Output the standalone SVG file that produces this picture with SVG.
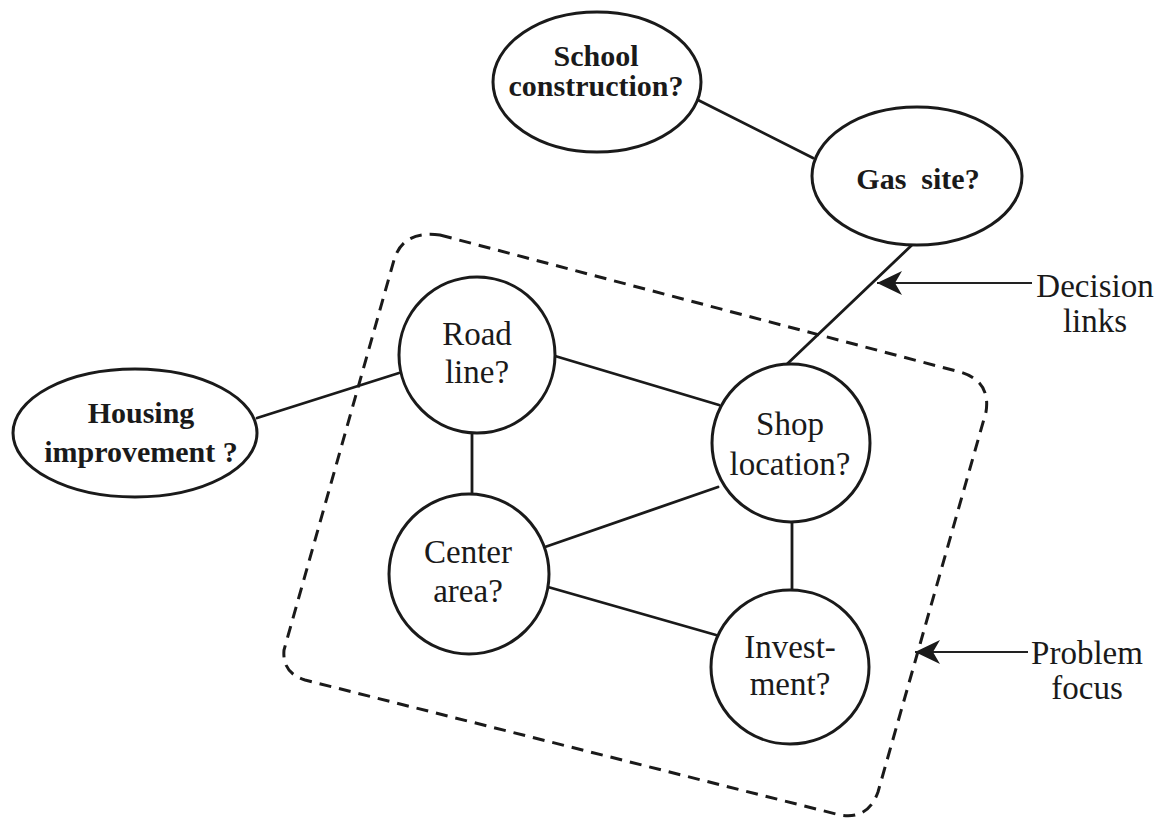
<svg xmlns="http://www.w3.org/2000/svg" width="1164" height="818" viewBox="0 0 1164 818">
  <style>
    .node { fill: #ffffff; stroke: #1a1a1a; stroke-width: 3; }
    .link { fill: none; stroke: #1a1a1a; stroke-width: 2.8; stroke-linecap: round; }
    .focus { fill: none; stroke: #1a1a1a; stroke-width: 3; stroke-dasharray: 12 8; }
    .pointer { fill: none; stroke: #222222; stroke-width: 2.2; }
    .lbl { font-family: "Liberation Serif", "DejaVu Serif", serif; font-size: 33px; fill: #1a1a1a; text-anchor: middle; }
    .lbl-b { font-family: "Liberation Serif", "DejaVu Serif", serif; font-size: 30px; font-weight: bold; fill: #1a1a1a; text-anchor: middle; }
  </style>
  <defs>
    <!-- barbed arrowhead, tip at the end of the pointer line -->
    <marker id="barb" viewBox="0 0 28 26" refX="26" refY="13" markerWidth="28" markerHeight="26" markerUnits="userSpaceOnUse" orient="auto">
      <path d="M26,13 L1,1 L8,13 L1,25 Z" fill="#1a1a1a"/>
    </marker>
  </defs>
  <rect width="1164" height="818" fill="#ffffff"/>

  <!-- problem focus boundary -->
  <path id="focus-boundary" class="focus" d="M440,235 L960,372 Q991,381 986,412 L878,792 Q868,820 840,815 L305,680 Q282,673 284,650 L394,260 Q403,230 440,235 Z"/>

  <!-- decision links -->
  <g id="connectors">
    <line class="link" x1="698" y1="100" x2="813" y2="158"/>
    <line class="link" x1="913" y1="244" x2="785" y2="366"/>
    <line class="link" x1="257" y1="418" x2="399" y2="373"/>
    <line class="link" x1="555" y1="356" x2="719" y2="405"/>
    <line class="link" x1="472" y1="433" x2="472" y2="495"/>
    <line class="link" x1="718" y1="487" x2="545" y2="547"/>
    <line class="link" x1="548" y1="587" x2="716" y2="635"/>
    <line class="link" x1="792" y1="522" x2="792" y2="590"/>
  </g>

  <g id="school">
    <ellipse class="node" cx="597" cy="82" rx="104" ry="70"/>
    <text class="lbl-b" x="596" y="66">School</text>
    <text class="lbl-b" x="596" y="96">construction?</text>
  </g>
  <g id="gas">
    <ellipse class="node" cx="917" cy="176" rx="105" ry="69"/>
    <text class="lbl-b" x="918" y="189" xml:space="preserve">Gas  site?</text>
  </g>
  <g id="housing">
    <ellipse class="node" cx="135" cy="433" rx="122" ry="64"/>
    <text class="lbl-b" x="141" y="423">Housing</text>
    <text class="lbl-b" x="141" y="462">improvement ?</text>
  </g>
  <g id="road">
    <circle class="node" cx="477" cy="355" r="78"/>
    <text class="lbl" x="477" y="345">Road</text>
    <text class="lbl" x="477" y="383">line?</text>
  </g>
  <g id="shop">
    <circle class="node" cx="791" cy="443" r="79"/>
    <text class="lbl" x="790" y="435">Shop</text>
    <text class="lbl" x="790" y="475">location?</text>
  </g>
  <g id="center">
    <circle class="node" cx="469" cy="574" r="80"/>
    <text class="lbl" x="468" y="563">Center</text>
    <text class="lbl" x="468" y="602">area?</text>
  </g>
  <g id="investment">
    <ellipse class="node" cx="790" cy="667" rx="79" ry="77"/>
    <text class="lbl" x="790" y="658">Invest-</text>
    <text class="lbl" x="790" y="695">ment?</text>
  </g>

  <!-- callouts -->
  <g id="decision-links-note">
    <line class="pointer" x1="1032" y1="283" x2="877" y2="283" marker-end="url(#barb)"/>
    <text class="lbl" x="1095" y="297">Decision</text>
    <text class="lbl" x="1095" y="332">links</text>
  </g>
  <g id="problem-focus-note">
    <line class="pointer" x1="1028" y1="652" x2="915" y2="652" marker-end="url(#barb)"/>
    <text class="lbl" x="1087" y="664">Problem</text>
    <text class="lbl" x="1087" y="699">focus</text>
  </g>
</svg>
